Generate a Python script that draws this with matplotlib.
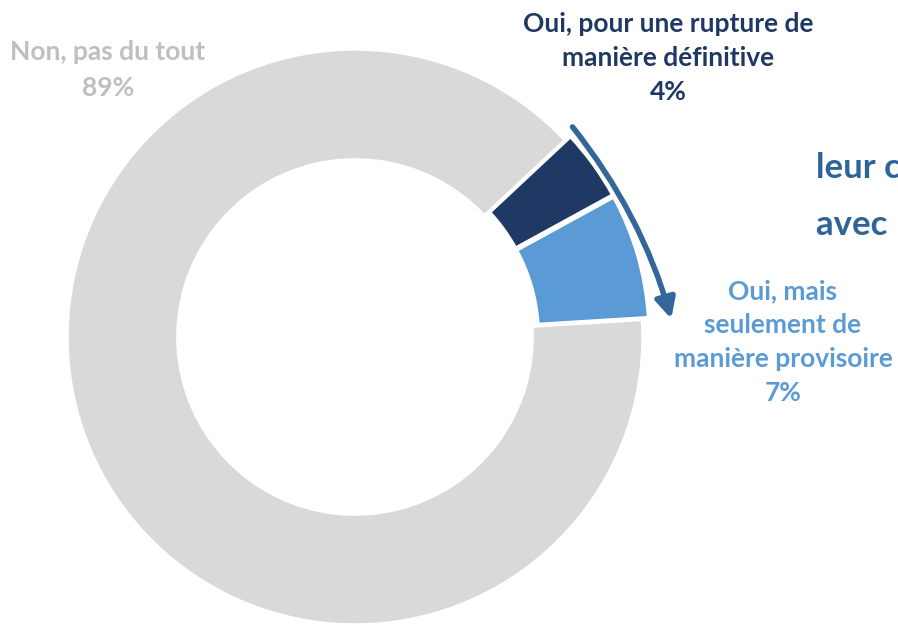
import matplotlib.pyplot as plt
from matplotlib.patches import FancyArrowPatch
import numpy as np

labels = ['Non, pas du tout', 'Oui, pour une rupture de\nmanière définitive',
          'Oui, mais\nseulement de\nmanière provisoire']
values = [89, 4, 7]
colors = ['#D9D9D9', '#203864', '#5B9BD5']
label_colors = ['#BFBFBF', '#203864', '#5B9BD5']
side_text = ['leur couple', 'avec leur']

W, H = 898, 625
R_PX = 288.0
CX, CY = 355.0, 337.0   # ring centre, pixels from top-left


def px(x, y):
    """Pixel position (from top-left) to data units."""
    return (x - CX) / R_PX, (CY - y) / R_PX


fig = plt.figure(figsize=(W / 100, H / 100), dpi=100)
ax = fig.add_axes([0, 0, 1, 1])

ax.pie(values, colors=colors, startangle=3.5, counterclock=False,
       explode=[0, 0.022, 0.022], radius=1.0,
       wedgeprops=dict(width=0.385, edgecolor='white', linewidth=2.5))

# pie() resets the limits, so set them afterwards
ax.set_xlim(-CX / R_PX, (W - CX) / R_PX)
ax.set_ylim(-(H - CY) / R_PX, CY / R_PX)
ax.set_aspect('equal')
ax.axis('off')

# curved arrow along the two "Oui" slices
a0, a1 = np.deg2rad(44.0), np.deg2rad(3.3)
p0 = (1.05 * np.cos(a0), 1.05 * np.sin(a0))
p1 = (1.1 * np.cos(a1), 1.1 * np.sin(a1))
arrow = FancyArrowPatch(p0, p1, connectionstyle='arc3,rad=-0.1',
                        arrowstyle='-|>,head_length=0.6,head_width=0.3',
                        color='#336699', linewidth=4, mutation_scale=20,
                        shrinkA=0, shrinkB=0)
ax.add_patch(arrow)

font = 'Lato'
fs = 19
pct = [f'{v}%' for v in values]
ax.text(*px(108, 70), f'{labels[0]}\n{pct[0]}', color=label_colors[0],
        ha='center', va='center', fontsize=fs, fontweight='bold',
        family=font, linespacing=1.65)
ax.text(*px(668, 58), f'{labels[1]}\n{pct[1]}', color=label_colors[1],
        ha='center', va='center', fontsize=fs, fontweight='bold',
        family=font, linespacing=1.52)
ax.text(*px(783, 342), f'{labels[2]}\n{pct[2]}', color=label_colors[2],
        ha='center', va='center', fontsize=fs, fontweight='bold',
        family=font, linespacing=1.5)

ax.text(*px(816, 168), side_text[0], color='#2E6499', ha='left', va='center',
        fontsize=25, fontweight='bold', family=font)
ax.text(*px(816, 225), side_text[1], color='#2E6499', ha='left', va='center',
        fontsize=25, fontweight='bold', family=font)

fig.savefig('out.png', dpi=100)
